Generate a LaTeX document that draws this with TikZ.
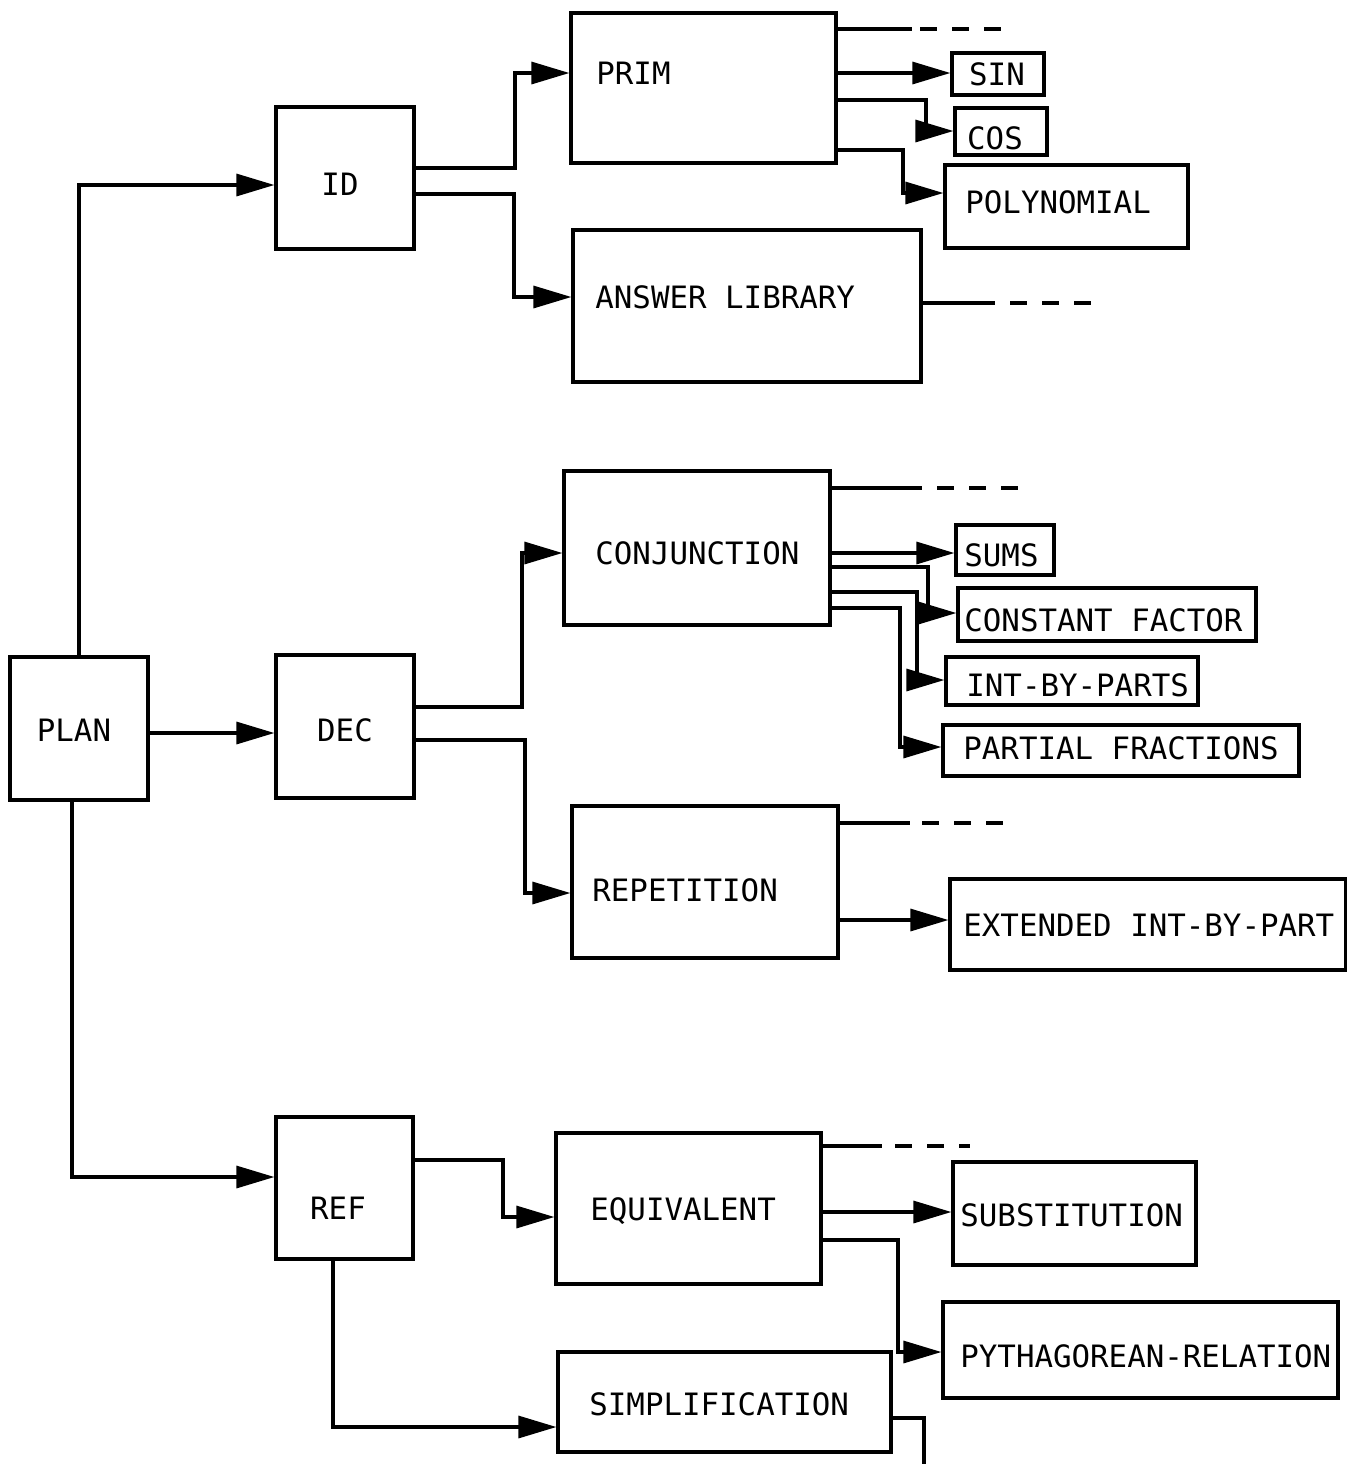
\documentclass[tikz,border=0pt]{standalone}
\usepackage{fontspec}
\newfontfamily\dmono{DejaVu Sans Mono}
\usetikzlibrary{fit,arrows.meta}
\begin{document}
\begin{tikzpicture}[x=0.5pt,y=-0.5pt,
  box/.style={draw, line width=1.6pt, inner sep=0pt},
  txt/.style={font=\dmono\fontsize{15.4}{18}\selectfont, inner sep=0pt, text height=11.2pt, text depth=0pt},
  ln/.style={line width=1.6pt},
  arr/.style={line width=1.6pt, -{Triangle[length=19pt,width=11pt]}},
  dsh/.style={line width=1.6pt, dash pattern=on 8.5pt off 7.5pt}]
\useasboundingbox (0,0) rectangle (1347,1464);
% boxes
\node[box, fit={(10,657) (148,800)}] (plan) {};
\node[box, fit={(276,107) (414,249)}] (id) {};
\node[box, fit={(276,655) (414,798)}] (dec) {};
\node[box, fit={(276,1117) (413,1259)}] (ref) {};
\node[box, fit={(571,13) (836,163)}] (prim) {};
\node[box, fit={(573,230) (921,382)}] (ans) {};
\node[box, fit={(564,471) (830,625)}] (conj) {};
\node[box, fit={(572,806) (838,958)}] (rep) {};
\node[box, fit={(556,1133) (821,1284)}] (equ) {};
\node[box, fit={(558,1352) (891,1452)}] (simp) {};
\node[box, fit={(952,53) (1044,95)}] (sin) {};
\node[box, fit={(955,108) (1047,155)}] (cos) {};
\node[box, fit={(945,165) (1188,248)}] (poly) {};
\node[box, fit={(956,525) (1054,575)}] (sums) {};
\node[box, fit={(958,588) (1256,641)}] (cons) {};
\node[box, fit={(946,657) (1198,705)}] (ibp) {};
\node[box, fit={(943,725) (1299,776)}] (pf) {};
\node[box, fit={(950,879) (1346,970)}] (ext) {};
\node[box, fit={(953,1162) (1196,1265)}] (sub) {};
\node[box, fit={(943,1302) (1338,1398)}] (pyth) {};
% texts
\node[txt] (planT) at (74,730) {PLAN};
\node[txt] (idT) at (340,184) {ID};
\node[txt] (decT) at (345,730) {DEC};
\node[txt] (refT) at (338,1208) {REF};
\node[txt, anchor=west] (primT) at (596,73) {PRIM};
\node[txt, anchor=west] (ansT) at (595,297) {ANSWER LIBRARY};
\node[txt, anchor=west] (conjT) at (595,553) {CONJUNCTION};
\node[txt, anchor=west] (repT) at (592,890) {REPETITION};
\node[txt, anchor=west] (equT) at (590,1209) {EQUIVALENT};
\node[txt, anchor=west] (simpT) at (589,1404) {SIMPLIFICATION};
\node[txt] (sinT) at (997,74) {SIN};
\node[txt] (cosT) at (995,138) {COS};
\node[txt, anchor=west] (polyT) at (965,202) {POLYNOMIAL};
\node[txt, anchor=west] (sumsT) at (964,555) {SUMS};
\node[txt, anchor=west] (consT) at (964,620) {CONSTANT FACTOR};
\node[txt, anchor=west] (ibpT) at (966,685) {INT-BY-PARTS};
\node[txt, anchor=west] (pfT) at (963,748) {PARTIAL FRACTIONS};
\node[txt, anchor=west] (extT) at (963,925) {EXTENDED INT-BY-PART};
\node[txt, anchor=west] (subT) at (960,1215) {SUBSTITUTION};
\node[txt, anchor=west] (pythT) at (960,1356) {PYTHAGOREAN-RELATION};
% free ends of dashed lines
\coordinate (primEnd) at (1002,29);
\coordinate (ansEnd) at (1100,303);
\coordinate (conjEnd) at (1032,488);
\coordinate (repEnd) at (1012,823);
\coordinate (equEnd) at (970,1146);
\coordinate (simpEnd) at (924,1470);
% connectors from PLAN
\draw[arr] (plan.north) |- (id.west |- 0,185);
\draw[arr] (plan.east |- 0,733) -- (dec.west |- 0,733);
\draw[arr] (plan.south -| 72,0) |- (ref.west |- 0,1177);
% ID
\draw[arr] (id.east |- 0,168) -| (515,73) -- (prim.west |- 0,73);
\draw[arr] (id.east |- 0,194) -| (514,297) -- (ans.west |- 0,297);
% PRIM
\draw[ln] (prim.east |- 0,29) -- (912,29);
\draw[dsh] (920,29) -- (primEnd);
\draw[arr] (prim.east |- 0,73) -- (sin.west |- 0,73);
\draw[arr] (prim.east |- 0,100) -| (926,131) -- (cos.west |- 0,131);
\draw[arr] (prim.east |- 0,150) -| (903,193) -- (poly.west |- 0,193);
% ANSWER LIBRARY
\draw[ln] (ans.east |- 0,303) -- (995,303);
\draw[dsh] (1010,303) -- (ansEnd);
% DEC
\draw[arr] (dec.east |- 0,707) -| (522,553) -- (conj.west |- 0,553);
\draw[arr] (dec.east |- 0,740) -| (525,893) -- (rep.west |- 0,893);
% CONJUNCTION
\draw[ln] (conj.east |- 0,488) -- (922,488);
\draw[dsh] (937,488) -- (conjEnd);
\draw[arr] (conj.east |- 0,553) -- (sums.west |- 0,553);
\draw[arr] (conj.east |- 0,567) -| (928,613) -- (cons.west |- 0,613);
\draw[arr] (conj.east |- 0,592) -| (917,680) -- (ibp.west |- 0,680);
\draw[arr] (conj.east |- 0,608) -| (900,747) -- (pf.west |- 0,747);
% REPETITION
\draw[ln] (rep.east |- 0,823) -- (910,823);
\draw[dsh] (922,823) -- (repEnd);
\draw[arr] (rep.east |- 0,920) -- (ext.west |- 0,920);
% REF
\draw[arr] (ref.east |- 0,1160) -| (503,1217) -- (equ.west |- 0,1217);
\draw[arr] (ref.south -| 333,0) |- (simp.west |- 0,1427);
% EQUIVALENT
\draw[ln] (equ.east |- 0,1146) -- (882,1146);
\draw[dsh] (895,1146) -- (equEnd);
\draw[arr] (equ.east |- 0,1212) -- (sub.west |- 0,1212);
\draw[arr] (equ.east |- 0,1240) -| (898,1352) -- (pyth.west |- 0,1352);
% SIMPLIFICATION
\draw[ln] (simp.east |- 0,1418) -| (simpEnd);
\end{tikzpicture}
\end{document}
